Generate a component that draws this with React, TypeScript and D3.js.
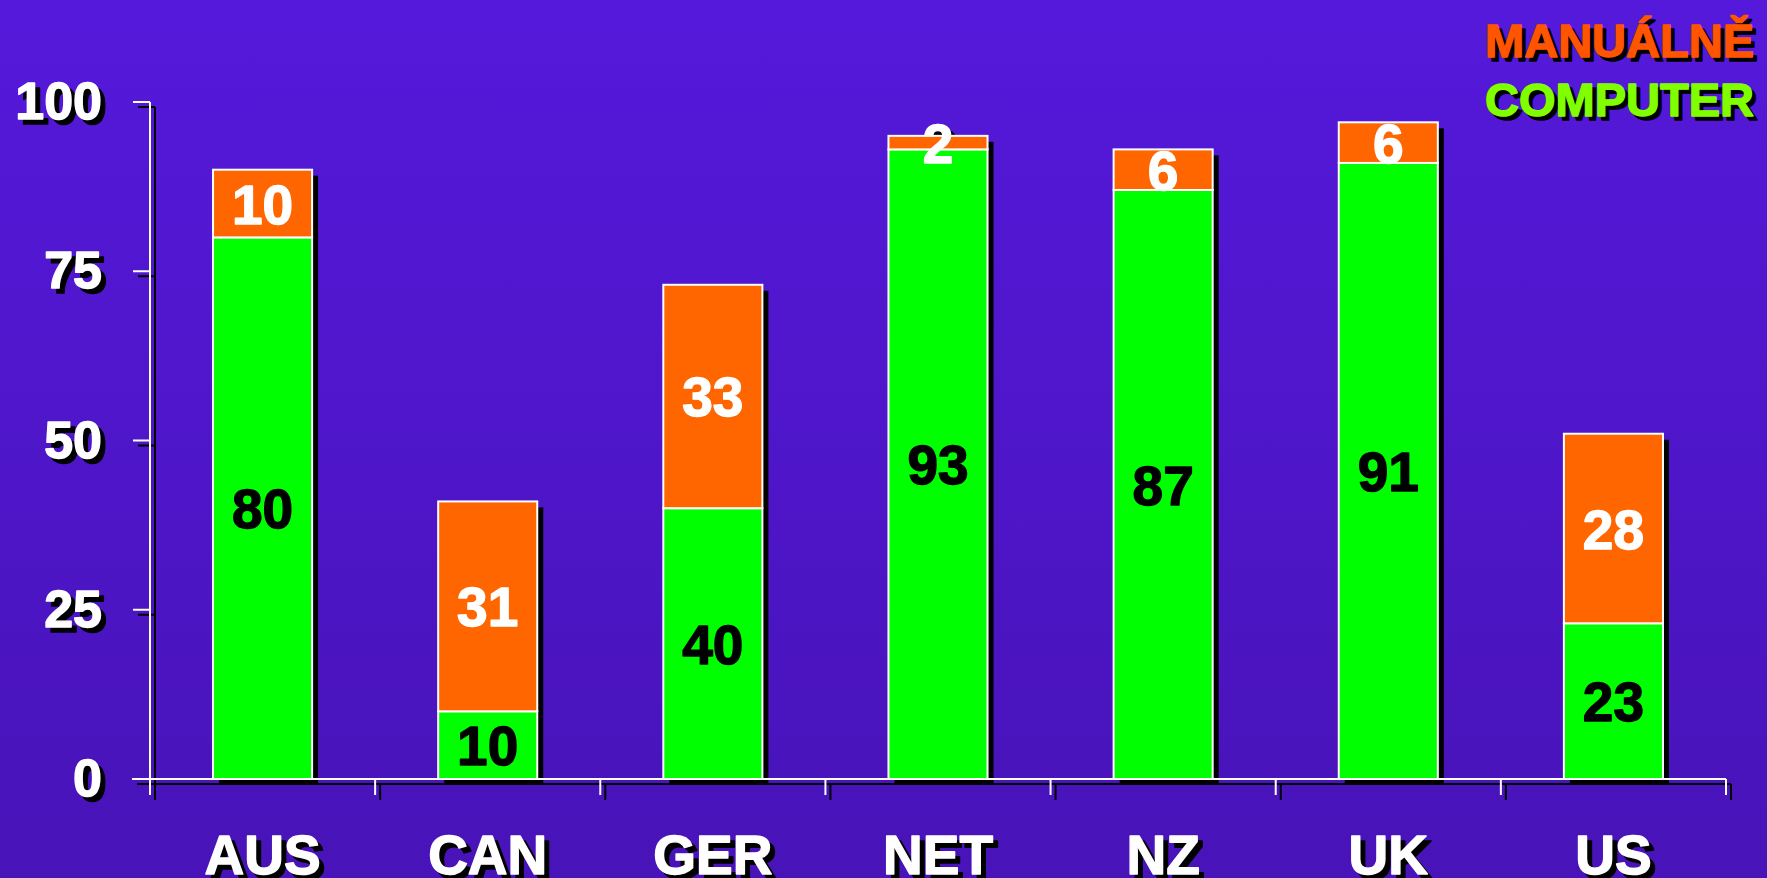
import React, { useEffect } from "react";
import * as d3 from "d3";

const categories = ["AUS", "CAN", "GER", "NET", "NZ", "UK", "US"];
const computerValues = [80, 10, 40, 93, 87, 91, 23];
const manualValues = [10, 31, 33, 2, 6, 6, 28];
const yTicks = [0, 25, 50, 75, 100];
const legendLabels = ["MANUÁLNĚ", "COMPUTER"];

const W = 1767;
const H = 878;
const FONT = "'Liberation Sans', Arial, Helvetica, sans-serif";
const SW = 1.4;

export default function App() {
  useEffect(() => {
    document.body.style.margin = "0";
    document.body.style.overflow = "hidden";
  }, []);

  const x = d3
    .scaleBand<string>()
    .domain(categories)
    .range([150, 1726])
    .paddingInner(0.56)
    .paddingOuter(0.28);
  const y = d3.scaleLinear().domain([0, 100]).range([779, 102]);
  const step = x.step();
  const x0 = 150;
  const bw = x.bandwidth();
  const sh = 5;
  const bsh = 6;

  const stacked = categories.map((c, i) => ({
    c,
    comp: computerValues[i],
    man: manualValues[i],
  }));

  const boundaries = d3.range(categories.length + 1).map((i) => x0 + i * step);

  const axisLines = (dx: number, dy: number, color: string) => (
    <g stroke={color} strokeWidth={2} fill="none">
      <line x1={150 + dx} x2={150 + dx} y1={y(100) + dy} y2={y(0) + 16 + dy} />
      {yTicks.map((t) => (
        <line key={t} x1={133 + dx} x2={150 + dx} y1={y(t) + dy} y2={y(t) + dy} />
      ))}
      <line x1={132 + dx} x2={1726 + dx} y1={y(0) + dy} y2={y(0) + dy} />
      {boundaries.map((b, i) => (
        <line key={i} x1={b + dx} x2={b + dx} y1={y(0) + dy} y2={y(0) + 16 + dy} />
      ))}
    </g>
  );

  const txt = (
    key: string,
    tx: number,
    ty: number,
    s: string | number,
    color: string,
    size: number,
    anchor: string
  ) => (
    <text
      key={key}
      x={tx}
      y={ty}
      textAnchor={anchor}
      fontFamily={FONT}
      fontWeight="bold"
      fontSize={size}
      fill={color}
      stroke={color}
      strokeWidth={SW}
      strokeLinejoin="round"
    >
      {s}
    </text>
  );

  const barLabel = (d: typeof stacked[number], dx: number, dy: number, shadow: boolean) => {
    const cx = (x(d.c) as number) + bw / 2 + dx;
    return (
      <g key={d.c + (shadow ? "s" : "")}>
        {!shadow && txt("c", cx, y(d.comp / 2) + 20 + dy, d.comp, "#000", 55, "middle")}
        {txt("m", cx, y(d.comp + d.man / 2) + 20 + dy, d.man, shadow ? "#000" : "#fff", 55, "middle")}
      </g>
    );
  };

  return (
    <svg width={W} height={H} style={{ display: "block" }}>
      <defs>
        <linearGradient id="bg" x1="0" y1="0" x2="0" y2="1">
          <stop offset="0" stopColor="#5519DB" />
          <stop offset="1" stopColor="#4813B8" />
        </linearGradient>
      </defs>
      <rect x={0} y={0} width={W} height={H} fill="url(#bg)" />

      {axisLines(sh, sh, "#000")}

      {stacked.map((d) => (
        <rect
          key={d.c}
          x={(x(d.c) as number) + bsh}
          y={y(d.comp + d.man) + bsh}
          width={bw}
          height={y(0) - y(d.comp + d.man)}
          fill="#000"
        />
      ))}

      {stacked.map((d) => barLabel(d, 5, 5, true))}

      {axisLines(0, 0, "#fff")}

      {stacked.map((d) => (
        <g key={d.c} stroke="#fff" strokeWidth={2}>
          <rect
            x={x(d.c) as number}
            y={y(d.comp)}
            width={bw}
            height={y(0) - y(d.comp)}
            fill="#00FF00"
          />
          <rect
            x={x(d.c) as number}
            y={y(d.comp + d.man)}
            width={bw}
            height={y(d.comp) - y(d.comp + d.man)}
            fill="#FF6600"
          />
        </g>
      ))}

      {stacked.map((d) => barLabel(d, 0, 0, false))}

      {yTicks.map((t) => (
        <g key={t}>
          {txt("s", 102 + sh, y(t) + 17 + sh, t, "#000", 52, "end")}
          {txt("f", 102, y(t) + 17, t, "#fff", 52, "end")}
        </g>
      ))}

      {categories.map((c) => (
        <g key={c}>
          {txt("s", (x(c) as number) + bw / 2 + sh, 874 + sh, c, "#000", 55, "middle")}
          {txt("f", (x(c) as number) + bw / 2, 874, c, "#fff", 55, "middle")}
        </g>
      ))}

      {legendLabels.map((l, i) => (
        <g key={l}>
          {txt("s", 1754 + 4, 57 + i * 59 + 4, l, "#000", 47, "end")}
          {txt("f", 1754, 57 + i * 59, l, i === 0 ? "#FF5500" : "#80FF00", 47, "end")}
        </g>
      ))}
    </svg>
  );
}
